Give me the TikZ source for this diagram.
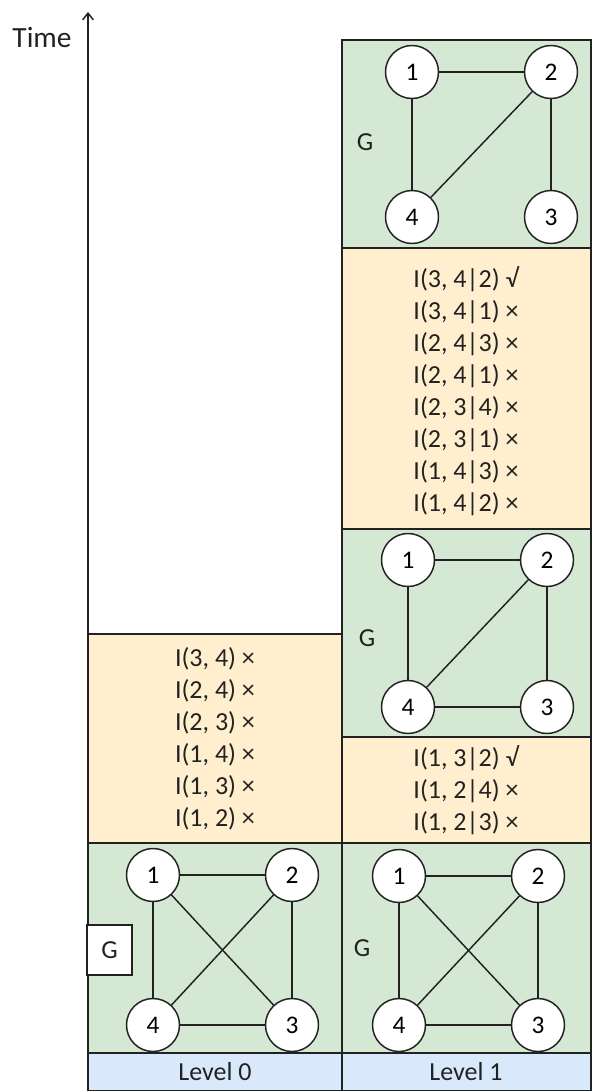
\documentclass[tikz,border=0pt]{standalone}
\usepackage{fontspec}
\setmainfont{Carlito}
\usetikzlibrary{arrows.meta,fit}
\definecolor{gfill}{HTML}{D5E8D4}
\definecolor{ofill}{HTML}{FFEFCF}
\definecolor{bfill}{HTML}{DAE8FC}
\definecolor{lc}{HTML}{222222}
\begin{document}
\begin{tikzpicture}[x=0.75pt,y=-0.75pt,
 box/.style={draw=lc, line width=1.1pt, inner sep=0pt, outer sep=0pt},
 gbox/.style={box, fill=gfill},
 obox/.style={box, fill=ofill},
 bbox/.style={box, fill=bfill},
 vert/.style={circle, draw=lc, fill=white, line width=1.1pt, minimum size=39.75pt, inner sep=0pt, font=\fontsize{19}{22}\selectfont},
 edge/.style={draw=lc, line width=1.1pt},
 lbl/.style={font=\fontsize{19.5}{22}\selectfont, text=lc},
 tests/.style={align=center, font=\fontsize{19.5}{24}\selectfont, text=lc}
]
\useasboundingbox (0,0) rectangle (592,1091);
% left column
\node[obox, fit={(88,634) (342,843)}] (o0) {};
\node[gbox, fit={(88,843) (342,1053)}] (g0) {};
\node[bbox, fit={(88,1053) (342,1091)}] (b0) {};
% right column
\node[gbox, fit={(342,40) (591,248)}] (g3) {};
\node[obox, fit={(342,248) (591,529)}] (o2) {};
\node[gbox, fit={(342,529) (591,737)}] (g2) {};
\node[obox, fit={(342,737) (591,843)}] (o1) {};
\node[gbox, fit={(342,843) (591,1053)}] (g1) {};
\node[bbox, fit={(342,1053) (591,1091)}] (b1) {};
% time axis
\coordinate (tbase) at (88,634);
\coordinate (ttop) at (88,12);
\draw[edge, -{Straight Barb[length=5pt,width=8pt]}] (tbase) -- (ttop);
\node[lbl, font=\fontsize{22}{24}\selectfont] (time) at (42,38) {Time};
% level labels
\node[lbl] (lv0) at (215,1072) {Level 0};
\node[lbl] (lv1) at (466,1072) {Level 1};
% test texts
\node[tests] (t0) at (215,739) {I(3, 4) ×\\I(2, 4) ×\\I(2, 3) ×\\I(1, 4) ×\\I(1, 3) ×\\I(1, 2) ×};
\node[tests] (t1) at (466,790) {I(1, 3|2) √\\I(1, 2|4) ×\\I(1, 2|3) ×};
\node[tests] (t2) at (466,391) {I(3, 4|2) √\\I(3, 4|1) ×\\I(2, 4|3) ×\\I(2, 4|1) ×\\I(2, 3|4) ×\\I(2, 3|1) ×\\I(1, 4|3) ×\\I(1, 4|2) ×};
% left bottom graph
\node[vert] (L1) at (153,875) {1};
\node[vert] (L2) at (292,875) {2};
\node[vert] (L3) at (292,1025) {3};
\node[vert] (L4) at (153,1025) {4};
\draw[edge] (L1) -- (L2); \draw[edge] (L1) -- (L4); \draw[edge] (L2) -- (L3);
\draw[edge] (L4) -- (L3); \draw[edge] (L1) -- (L3); \draw[edge] (L2) -- (L4);
\node[box, fill=white, minimum width=33.75pt, minimum height=37.5pt, lbl] (GL) at (109.5,950) {G};
% right bottom graph
\node[vert] (R1) at (399,876) {1};
\node[vert] (R2) at (538,876) {2};
\node[vert] (R3) at (538,1025) {3};
\node[vert] (R4) at (399,1025) {4};
\draw[edge] (R1) -- (R2); \draw[edge] (R1) -- (R4); \draw[edge] (R2) -- (R3);
\draw[edge] (R4) -- (R3); \draw[edge] (R1) -- (R3); \draw[edge] (R2) -- (R4);
\node[lbl] (GR) at (362,948) {G};
% right middle graph
\node[vert] (M1) at (408,560) {1};
\node[vert] (M2) at (547,560) {2};
\node[vert] (M3) at (547,707) {3};
\node[vert] (M4) at (408,707) {4};
\draw[edge] (M1) -- (M2); \draw[edge] (M1) -- (M4); \draw[edge] (M2) -- (M3);
\draw[edge] (M4) -- (M3); \draw[edge] (M2) -- (M4);
\node[lbl] (GM) at (367,638) {G};
% right top graph
\node[vert] (T1) at (412,72) {1};
\node[vert] (T2) at (551,72) {2};
\node[vert] (T3) at (551,217) {3};
\node[vert] (T4) at (412,217) {4};
\draw[edge] (T1) -- (T2); \draw[edge] (T1) -- (T4); \draw[edge] (T2) -- (T3);
\draw[edge] (T2) -- (T4);
\node[lbl] (GT) at (365,142) {G};
\end{tikzpicture}
\end{document}
